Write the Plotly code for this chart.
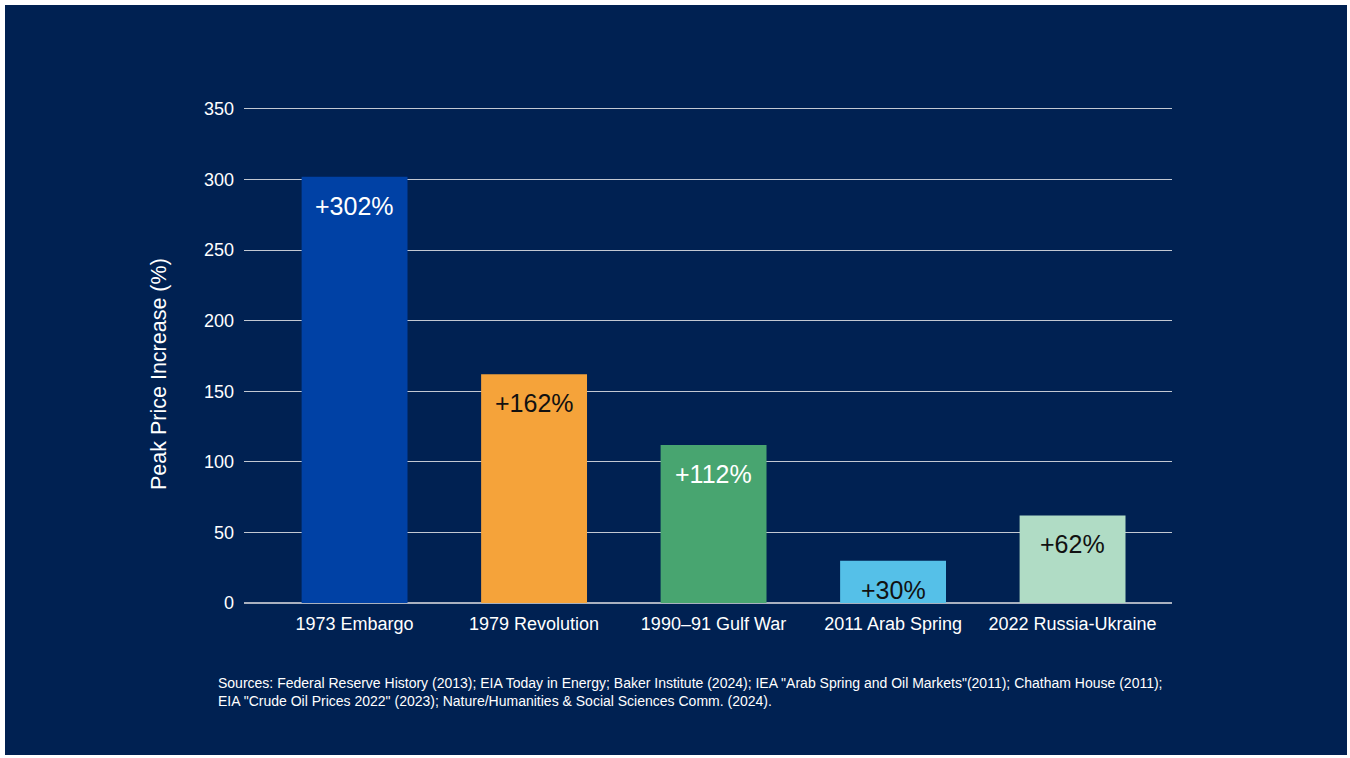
import plotly.graph_objects as go

categories = ["1973 Embargo", "1979 Revolution", "1990–91 Gulf War", "2011 Arab Spring", "2022 Russia-Ukraine"]
values = [302, 162, 112, 30, 62]
labels = ["+302%", "+162%", "+112%", "+30%", "+62%"]
bar_colors = ["#0041A5", "#F5A33A", "#48A570", "#55C0E8", "#B0DCC5"]
label_colors = ["#FFFFFF", "#111111", "#FFFFFF", "#111111", "#111111"]
y_ticks = [0, 50, 100, 150, 200, 250, 300, 350]
y_title = "Peak Price Increase (%)"
sources = ("Sources: Federal Reserve History (2013); EIA Today in Energy; Baker Institute (2024); "
           "IEA \"Arab Spring and Oil Markets\"(2011); Chatham House (2011);<br>"
           "EIA \"Crude Oil Prices 2022\" (2023); Nature/Humanities &amp; Social Sciences Comm. (2024).")

W, H = 1350, 758
L, R, T, B = 244, 1172, 105, 603
Y_MAX = 352.8
NAVY = "#002152"
FONT = "Liberation Sans, Arial, sans-serif"

fig = go.Figure(go.Bar(
    x=categories, y=values,
    marker=dict(color=bar_colors, line=dict(width=0)),
    width=0.59,
    hoverinfo="skip",
))

for cat, val, lab, col in zip(categories, values, labels, label_colors):
    fig.add_annotation(x=cat, y=val, text=lab, showarrow=False,
                       xanchor="center", yanchor="top", yshift=-13,
                       font=dict(family=FONT, size=25, color=col))

def px_x(px):
    return (px - L) / (R - L)

def px_y(py):
    return (B - py) / (B - T)

fig.add_shape(type="rect", xref="paper", yref="paper",
              x0=px_x(5), x1=px_x(1347), y0=px_y(755), y1=px_y(5),
              fillcolor=NAVY, line=dict(width=0), layer="below")

fig.add_annotation(text=y_title, xref="paper", yref="paper",
                   x=px_x(159), y=px_y(374), xanchor="center", yanchor="middle",
                   textangle=-90, showarrow=False,
                   font=dict(family=FONT, size=21.5, color="#FFFFFF"))

fig.add_annotation(text=sources, xref="paper", yref="paper",
                   x=px_x(216), y=px_y(673), xanchor="left", yanchor="top",
                   align="left", showarrow=False,
                   font=dict(family=FONT, size=14, color="#FFFFFF"))

fig.update_layout(
    width=W, height=H,
    margin=dict(l=L, r=W - R, t=T, b=H - B, pad=0),
    paper_bgcolor="#FFFFFF",
    plot_bgcolor="rgba(0,0,0,0)",
    showlegend=False,
    font=dict(family=FONT, color="#FFFFFF"),
    xaxis=dict(range=[-0.616, 4.554], showgrid=False, zeroline=False,
               showline=False, ticks="", tickfont=dict(size=18, color="#FFFFFF"),
               ticklabelstandoff=8),
    yaxis=dict(range=[0, Y_MAX], tickvals=y_ticks, showgrid=True,
               gridcolor="#C2C8D2", gridwidth=1,
               zeroline=True, zerolinecolor="#A9B1BF", zerolinewidth=2,
               showline=False, ticks="", tickfont=dict(size=18, color="#FFFFFF"),
               ticklabelstandoff=9),
)

fig.write_html("out.html")
